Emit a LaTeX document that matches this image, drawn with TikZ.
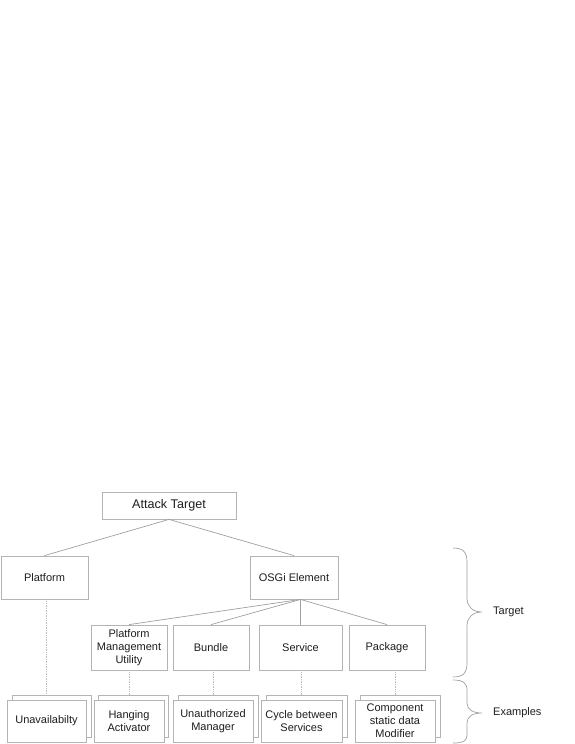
\documentclass[tikz,border=0pt]{standalone}
\usepackage{fontspec}
\setmainfont{Liberation Sans}
\begin{document}
\begin{tikzpicture}[x=1pt,y=-1pt,
  box/.style={draw=boxgray,line width=0.8pt,fill=white,rectangle,inner sep=1pt,align=center,
    font=\fontsize{11}{13}\selectfont,text=txt},
  backbox/.style={draw=boxgray,line width=0.8pt,fill=white,rectangle,inner sep=0pt},
  link/.style={draw=linegray,line width=0.7pt},
  dots/.style={draw=dotgray,line width=0.7pt,densely dotted},
  brace/.style={draw=linegray,line width=0.7pt},
  lbl/.style={font=\fontsize{11}{13}\selectfont,text=txt,anchor=west,inner sep=0pt}]
\definecolor{boxgray}{HTML}{B4B4B4}
\definecolor{linegray}{HTML}{A0A0A0}
\definecolor{dotgray}{HTML}{BBBBBB}
\definecolor{txt}{HTML}{1E1E1E}
\useasboundingbox (0,0) rectangle (575,744);
% top level
\node[box,minimum width=134pt,minimum height=27pt,font=\fontsize{12.6}{15}\selectfont] (at) at (169,505.5) {Attack Target};
\node[box,minimum width=87pt,minimum height=43pt] (pf) at (44.5,577.5) {Platform};
\node[box,minimum width=88pt,minimum height=43pt] (osgi) at (294,577.5) {OSGi Element};
% second level
\node[box,minimum width=76pt,minimum height=45pt] (pmu) at (129,647.5) {Platform\\Management\\Utility};
\node[box,minimum width=76pt,minimum height=45pt] (bun) at (211,647.5) {Bundle};
\node[box,minimum width=83pt,minimum height=45pt] (ser) at (300.5,647.5) {Service};
\node[box,minimum width=76pt,minimum height=45pt] (pac) at (387,647.5) {Package};
% examples: back boxes
\node[backbox,minimum width=79pt,minimum height=42pt] (b1) at (51.5,716) {};
\node[backbox,minimum width=70pt,minimum height=42pt] (b2) at (133,716) {};
\node[backbox,minimum width=80pt,minimum height=42pt] (b3) at (218,716) {};
\node[backbox,minimum width=81pt,minimum height=42pt] (b4) at (306.5,716) {};
\node[backbox,minimum width=80pt,minimum height=42pt] (b5) at (400,716) {};
% examples: front boxes
\node[box,minimum width=79pt,minimum height=42pt] (f1) at (46.5,721) {Unavailabilty};
\node[box,minimum width=70pt,minimum height=42pt] (f2) at (129,721) {Hanging\\Activator};
\node[box,minimum width=80pt,minimum height=42pt] (f3) at (213,721) {Unauthorized\\Manager};
\node[box,minimum width=81pt,minimum height=42pt] (f4) at (301.5,721) {Cycle between\\Services};
\node[box,minimum width=80pt,minimum height=42pt] (f5) at (395,721) {Component\\static data\\Modifier};
% connectors
\coordinate (apex) at (osgi.south -| ser.north);
\draw[link] (at.south) -- (pf.north);
\draw[link] (at.south) -- (osgi.north);
\draw[link] (apex) -- (pmu.north);
\draw[link] (apex) -- (bun.north);
\draw[link] (apex) -- (ser.north);
\draw[link] (apex) -- (pac.north);
\draw[dots] (f1.north |- pf.south) -- (f1.north |- b1.north);
\draw[dots] (f2.north |- pmu.south) -- (f2.north |- b2.north);
\draw[dots] (f3.north |- bun.south) -- (f3.north |- b3.north);
\draw[dots] (f4.north |- ser.south) -- (f4.north |- b4.north);
\draw[dots] (f5.north |- pac.south) -- (f5.north |- b5.north);
% braces
\draw[brace] (453,548) .. controls (463,548) and (467,552) .. (467,562) -- (467,598)
  .. controls (467,606) and (472,612) .. (482,612)
  .. controls (472,612) and (467,618) .. (467,626) -- (467,663)
  .. controls (467,673) and (463,677) .. (453,677);
\draw[brace] (453,680) .. controls (463,680) and (467,683) .. (467,690) -- (467,703)
  .. controls (467,709) and (472,713) .. (482,713)
  .. controls (472,713) and (467,717) .. (467,723) -- (467,735)
  .. controls (467,741) and (463,743) .. (453,743);
\node[lbl] (tg) at (493,612) {Target};
\node[lbl] (ex) at (493,713) {Examples};
\end{tikzpicture}
\end{document}
